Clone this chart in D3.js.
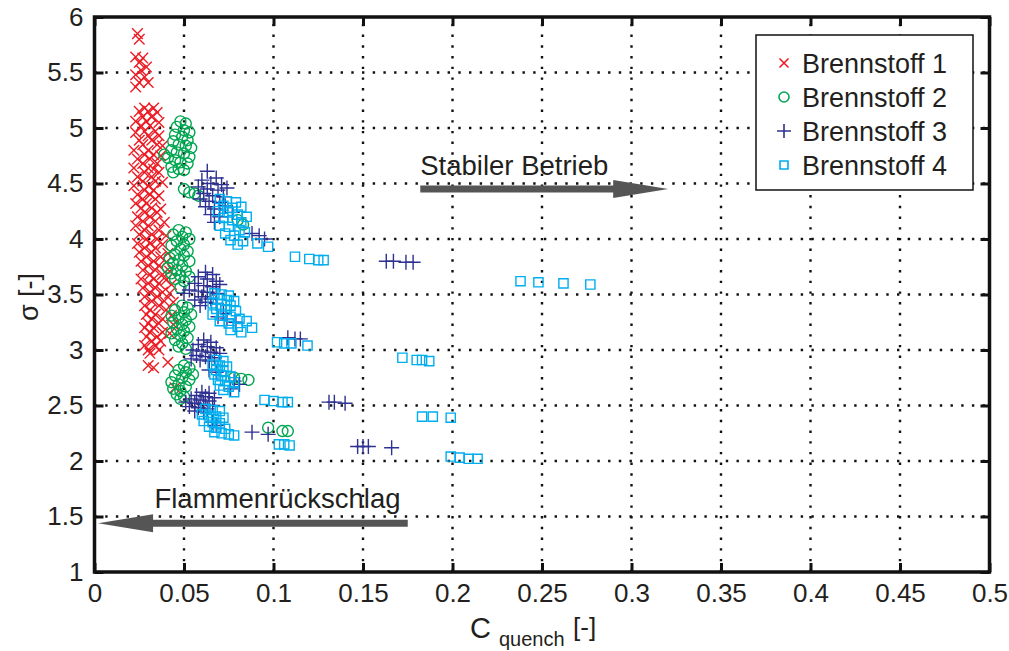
<!DOCTYPE html>
<html>
<head>
<meta charset="utf-8">
<script src="https://cdn.jsdelivr.net/npm/d3@7"></script>
<style>
body { margin: 0; background: #fff; }
svg { display: block; font-family: "Liberation Sans", Arial, Helvetica, sans-serif; }
</style>
</head>
<body>
<div id="chart"></div>
<script>
// series names shown in the legend
var seriesNames = ["Brennstoff 1", "Brennstoff 2", "Brennstoff 3", "Brennstoff 4"];

var xTickValues = [0, 0.05, 0.1, 0.15, 0.2, 0.25, 0.3, 0.35, 0.4, 0.45, 0.5];
var yTickValues = [1, 1.5, 2, 2.5, 3, 3.5, 4, 4.5, 5, 5.5, 6];

// Brennstoff 1 (red x) [C_quench, sigma]
var brennstoff1 = [
  [0.024,5.85],[0.025,5.80],[0.023,5.64],[0.027,5.63],[0.025,5.59],[0.029,5.55],[0.026,5.52],
  [0.023,5.48],[0.028,5.46],[0.025,5.41],[0.030,5.41],[0.023,5.37],
  [0.028,5.18],[0.033,5.18],[0.025,5.15],[0.030,5.15],[0.035,5.14],[0.027,5.10],[0.032,5.10],
  [0.023,5.06],[0.029,5.06],[0.036,5.05],[0.026,5.02],[0.031,5.02],[0.028,4.97],[0.034,4.97],
  [0.023,4.96],[0.030,4.93],[0.036,4.93],[0.025,4.89],[0.032,4.89],[0.027,4.85],[0.035,4.85],
  [0.038,4.84],[0.022,4.80],[0.030,4.80],[0.028,4.76],[0.033,4.76],[0.037,4.75],[0.024,4.72],
  [0.031,4.72],[0.027,4.68],[0.035,4.68],[0.022,4.64],[0.030,4.64],[0.033,4.63],[0.028,4.60],
  [0.036,4.60],[0.024,4.56],[0.032,4.56],[0.027,4.52],[0.034,4.52],[0.038,4.51],[0.022,4.48],
  [0.030,4.48],[0.028,4.44],[0.033,4.44],[0.024,4.40],[0.031,4.40],[0.036,4.39],[0.027,4.36],
  [0.034,4.36],[0.023,4.32],[0.029,4.32],[0.026,4.28],[0.032,4.28],[0.037,4.27],[0.028,4.24],
  [0.035,4.24],[0.024,4.20],[0.031,4.20],[0.027,4.16],[0.034,4.16],[0.039,4.15],[0.023,4.12],
  [0.030,4.12],[0.028,4.08],[0.036,4.08],[0.025,4.04],[0.032,4.04],[0.040,4.03],[0.029,4.00],
  [0.035,4.00],[0.024,3.96],[0.031,3.96],[0.038,3.95],[0.028,3.92],[0.034,3.92],[0.025,3.88],
  [0.032,3.88],[0.041,3.87],[0.029,3.84],[0.037,3.84],[0.026,3.80],[0.033,3.80],[0.040,3.79],
  [0.030,3.76],[0.036,3.76],[0.027,3.72],[0.034,3.72],[0.042,3.71],[0.031,3.68],[0.038,3.68],
  [0.026,3.64],[0.033,3.64],[0.040,3.63],[0.030,3.60],[0.036,3.60],[0.043,3.59],[0.027,3.56],
  [0.034,3.56],[0.031,3.52],[0.038,3.52],[0.042,3.51],[0.028,3.48],[0.035,3.48],[0.032,3.44],
  [0.039,3.44],[0.044,3.43],[0.028,3.40],[0.036,3.40],[0.031,3.36],[0.040,3.36],[0.029,3.32],
  [0.034,3.32],[0.043,3.31],[0.032,3.28],[0.038,3.28],[0.030,3.24],[0.036,3.24],[0.044,3.23],
  [0.028,3.20],[0.033,3.20],[0.031,3.16],[0.038,3.16],[0.042,3.15],[0.029,3.12],[0.035,3.12],
  [0.032,3.08],[0.037,3.08],[0.028,3.04],[0.034,3.04],[0.030,3.00],[0.036,3.00],[0.031,2.97],
  [0.030,2.86],[0.033,2.84],[0.041,2.89],[0.045,2.66]
];

// Brennstoff 2 (green o)
var brennstoff2 = [
  [0.048,5.06],[0.051,5.04],[0.046,5.01],[0.050,4.98],[0.053,4.96],[0.045,4.94],[0.049,4.92],
  [0.052,4.89],[0.044,4.88],[0.047,4.85],[0.051,4.84],[0.054,4.82],[0.043,4.80],[0.046,4.78],
  [0.050,4.77],[0.053,4.74],[0.041,4.73],[0.045,4.71],[0.048,4.69],[0.052,4.68],[0.043,4.65],
  [0.047,4.63],[0.044,4.60],[0.050,4.62],[0.039,4.76],
  [0.050,4.45],[0.053,4.42],[0.056,4.41],[0.058,4.39],
  [0.047,4.08],[0.051,4.06],[0.044,4.04],[0.049,4.02],[0.053,4.00],[0.046,3.98],[0.050,3.95],
  [0.043,3.94],[0.048,3.91],[0.052,3.89],[0.045,3.86],[0.050,3.85],[0.042,3.83],[0.047,3.81],
  [0.053,3.80],[0.044,3.78],[0.049,3.76],[0.041,3.74],[0.046,3.72],[0.051,3.71],[0.043,3.69],
  [0.048,3.67],[0.053,3.66],[0.045,3.64],[0.050,3.62],[0.048,3.56],
  [0.049,3.40],[0.052,3.38],[0.045,3.36],[0.050,3.34],[0.054,3.32],[0.043,3.31],[0.047,3.29],
  [0.051,3.27],[0.044,3.25],[0.049,3.23],[0.053,3.21],[0.046,3.19],[0.050,3.17],[0.043,3.15],
  [0.048,3.13],[0.052,3.11],[0.045,3.09],[0.049,3.06],[0.047,3.03],[0.051,3.01],
  [0.050,2.86],[0.053,2.84],[0.047,2.82],[0.051,2.80],[0.055,2.78],[0.045,2.77],[0.049,2.75],
  [0.053,2.73],[0.043,2.71],[0.047,2.69],[0.051,2.67],[0.044,2.65],[0.048,2.63],[0.046,2.60],
  [0.050,2.58],[0.048,2.56],
  [0.080,4.17],[0.083,4.13],[0.078,2.75],[0.082,2.74],[0.086,2.73],
  [0.097,2.30],[0.105,2.27],[0.108,2.27]
];

// Brennstoff 3 (navy +)
var brennstoff3 = [
  [0.063,4.61],[0.068,4.55],[0.060,4.53],[0.065,4.50],[0.071,4.49],[0.058,4.47],[0.063,4.45],
  [0.069,4.44],[0.074,4.46],[0.061,4.41],[0.066,4.39],[0.072,4.38],[0.059,4.36],[0.064,4.34],
  [0.070,4.33],[0.062,4.29],[0.067,4.27],[0.073,4.30],[0.065,4.22],[0.070,4.20],[0.067,4.15],
  [0.077,4.24],[0.088,4.05],[0.092,4.03],[0.095,4.00],
  [0.062,3.70],[0.066,3.68],[0.058,3.66],[0.063,3.64],[0.068,3.62],[0.056,3.60],[0.061,3.58],
  [0.066,3.57],[0.070,3.59],[0.053,3.54],[0.058,3.53],[0.063,3.52],[0.068,3.51],[0.050,3.51],
  [0.060,3.48],[0.065,3.46],[0.056,3.45],[0.062,3.43],[0.068,3.42],[0.059,3.40],
  [0.069,3.30],[0.074,3.28],[0.079,3.25],[0.072,3.33],
  [0.061,3.09],[0.065,3.07],[0.058,3.05],[0.063,3.03],[0.068,3.02],[0.055,3.00],[0.060,2.99],
  [0.065,2.98],[0.070,2.97],[0.057,2.95],[0.062,2.94],[0.067,2.93],[0.059,2.91],[0.064,2.90],
  [0.054,2.92],[0.064,2.82],[0.068,2.80],[0.078,2.72],[0.081,2.69],[0.076,2.65],
  [0.060,2.62],[0.064,2.61],[0.057,2.59],[0.062,2.58],[0.067,2.57],[0.054,2.56],[0.059,2.55],
  [0.064,2.54],[0.051,2.53],[0.056,2.52],[0.061,2.51],[0.066,2.50],[0.053,2.49],[0.058,2.48],
  [0.063,2.47],[0.056,2.45],[0.061,2.44],[0.066,2.35],[0.068,2.32],
  [0.088,2.26],[0.097,2.24],[0.108,3.11],[0.112,3.10],[0.115,3.10],
  [0.131,2.53],[0.134,2.53],[0.140,2.52],[0.147,2.13],[0.150,2.13],[0.153,2.13],[0.166,2.12],
  [0.163,3.80],[0.167,3.80],[0.174,3.79],[0.178,3.79]
];

// Brennstoff 4 (cyan squares)
var brennstoff4 = [
  [0.070,4.36],[0.074,4.34],[0.079,4.33],[0.072,4.30],[0.077,4.28],[0.082,4.29],[0.069,4.25],
  [0.075,4.24],[0.080,4.22],[0.085,4.20],[0.072,4.19],[0.077,4.17],[0.082,4.15],[0.070,4.12],
  [0.075,4.11],[0.081,4.08],[0.073,4.05],[0.078,4.03],[0.084,4.06],[0.076,3.99],[0.083,3.98],
  [0.080,3.95],[0.091,3.96],[0.097,3.93],
  [0.112,3.84],[0.120,3.82],[0.125,3.81],[0.128,3.81],
  [0.067,3.51],[0.071,3.50],[0.075,3.49],[0.069,3.46],[0.074,3.45],[0.078,3.44],[0.066,3.42],
  [0.071,3.41],[0.076,3.40],[0.068,3.37],[0.073,3.36],[0.079,3.35],[0.066,3.32],[0.071,3.31],
  [0.076,3.30],[0.081,3.28],[0.070,3.26],[0.075,3.24],[0.085,3.26],[0.080,3.21],[0.076,3.18],
  [0.082,3.16],[0.088,3.20],
  [0.102,3.07],[0.106,3.06],[0.110,3.06],[0.119,3.04],
  [0.172,2.93],[0.180,2.91],[0.183,2.91],[0.187,2.90],
  [0.068,2.91],[0.072,2.90],[0.066,2.87],[0.070,2.86],[0.074,2.85],[0.068,2.82],[0.072,2.81],
  [0.067,2.78],[0.071,2.77],[0.076,2.76],[0.069,2.73],[0.073,2.72],[0.078,2.71],[0.070,2.68],
  [0.075,2.67],[0.072,2.64],[0.078,2.62],
  [0.095,2.55],[0.100,2.54],[0.105,2.53],[0.108,2.53],
  [0.103,2.15],[0.106,2.15],[0.109,2.14],
  [0.062,2.47],[0.066,2.46],[0.070,2.45],[0.060,2.42],[0.064,2.41],[0.068,2.40],[0.072,2.39],
  [0.061,2.36],[0.066,2.35],[0.070,2.34],[0.064,2.31],[0.068,2.30],[0.073,2.29],[0.067,2.26],
  [0.071,2.25],[0.075,2.24],[0.078,2.23],
  [0.183,2.40],[0.189,2.40],[0.199,2.39],
  [0.199,2.04],[0.204,2.03],[0.209,2.02],[0.214,2.02],
  [0.238,3.62],[0.248,3.61],[0.262,3.60],[0.277,3.59]
];

var w = 1009;
var h = 651;
var margin = {left: 94.5, right: 19.5, top: 17, bottom: 79};

var svg = d3.select("#chart").append("svg")
    .attr("width", w)
    .attr("height", h);

var x = d3.scaleLinear().domain([0, 0.5]).range([margin.left, w - margin.right]);
var y = d3.scaleLinear().domain([1, 6]).range([h - margin.bottom, margin.top]);

// dotted grid
svg.append("g").selectAll("line")
    .data(xTickValues.slice(1, -1))
    .enter().append("line")
    .attr("x1", function(d) { return x(d); })
    .attr("x2", function(d) { return x(d); })
    .attr("y1", y(1))
    .attr("y2", y(6))
    .attr("stroke", "#111")
    .attr("stroke-width", 2.4)
    .attr("stroke-dasharray", "2.4,8.3");

svg.append("g").selectAll("line")
    .data(yTickValues.slice(1, -1))
    .enter().append("line")
    .attr("x1", x(0))
    .attr("x2", x(0.5))
    .attr("y1", function(d) { return y(d); })
    .attr("y2", function(d) { return y(d); })
    .attr("stroke", "#111")
    .attr("stroke-width", 2.4)
    .attr("stroke-dasharray", "2.4,8.3");

// marker shapes as path strings
function crossX(s) { return "M" + (-s) + "," + (-s) + "L" + s + "," + s + "M" + (-s) + "," + s + "L" + s + "," + (-s); }
function plus(s) { return "M" + (-s) + ",0L" + s + ",0M0," + (-s) + "L0," + s; }
function square(s) { return "M" + (-s) + "," + (-s) + "h" + (2 * s) + "v" + (2 * s) + "h" + (-2 * s) + "Z"; }
function circle(r) { return "M" + (-r) + ",0a" + r + "," + r + " 0 1,0 " + (2 * r) + ",0a" + r + "," + r + " 0 1,0 " + (-2 * r) + ",0"; }

var styles = [
    {data: brennstoff1, color: "#ed1c24", shape: crossX, size: 5.3, legSize: 4.5},
    {data: brennstoff2, color: "#00a651", shape: circle, size: 5.5, legSize: 5},
    {data: brennstoff3, color: "#2e3192", shape: plus, size: 7.5, legSize: 7},
    {data: brennstoff4, color: "#00aeef", shape: square, size: 4.6, legSize: 4}
];

styles.forEach(function(s) {
    svg.append("g").selectAll("path")
        .data(s.data)
        .enter().append("path")
        .attr("transform", function(d) { return "translate(" + x(d[0]) + "," + y(d[1]) + ")"; })
        .attr("d", s.shape(s.size))
        .attr("fill", "none")
        .attr("stroke", s.color)
        .attr("stroke-width", 1.4);
});

// arrows
function arrow(x1, x2, yv, label, textX, textY) {
    var dir = x2 > x1 ? 1 : -1;
    var px1 = x(x1), px2 = x(x2), py = y(yv);
    var headLen = 55;
    svg.append("line")
        .attr("x1", px1).attr("x2", px2 - dir * headLen + dir * 2)
        .attr("y1", py).attr("y2", py)
        .attr("stroke", "#555")
        .attr("stroke-width", 7);
    svg.append("path")
        .attr("d", "M" + px2 + "," + py + "L" + (px2 - dir * headLen) + "," + (py - 9) + "L" + (px2 - dir * headLen) + "," + (py + 9) + "Z")
        .attr("fill", "#555");
    svg.append("text")
        .attr("x", x(textX)).attr("y", y(textY))
        .attr("font-size", 27.5)
        .attr("fill", "#231f20")
        .text(label);
}
arrow(0.182, 0.3205, 4.45, "Stabiler Betrieb", 0.182, 4.58);
arrow(0.175, 0.002, 1.44, "Flammenrückschlag", 0.0335, 1.575);

// axes with inward ticks
var xAxis = d3.axisBottom(x).tickValues(xTickValues).tickSize(-9).tickPadding(12)
    .tickFormat(function(d) { return d3.format("~g")(d); });
var yAxis = d3.axisLeft(y).tickValues(yTickValues).tickSize(-9).tickPadding(11)
    .tickFormat(function(d) { return d3.format("~g")(d); });

var gx = svg.append("g").attr("transform", "translate(0," + y(1) + ")").call(xAxis);
var gy = svg.append("g").attr("transform", "translate(" + x(0) + ",0)").call(yAxis);
svg.append("g").attr("transform", "translate(0," + y(6) + ")")
    .call(d3.axisTop(x).tickValues(xTickValues).tickSize(-9).tickFormat(""));
svg.append("g").attr("transform", "translate(" + x(0.5) + ",0)")
    .call(d3.axisRight(y).tickValues(yTickValues).tickSize(-9).tickFormat(""));

svg.selectAll(".domain").remove();
svg.selectAll(".tick line").attr("stroke", "#111").attr("stroke-width", 3);
gx.selectAll("text").attr("font-size", 26).attr("font-family", "Liberation Sans, Arial, sans-serif").attr("fill", "#231f20");
gy.selectAll("text").attr("font-size", 26).attr("font-family", "Liberation Sans, Arial, sans-serif").attr("fill", "#231f20");

// frame
svg.append("rect")
    .attr("x", x(0)).attr("y", y(6))
    .attr("width", x(0.5) - x(0)).attr("height", y(1) - y(6))
    .attr("fill", "none")
    .attr("stroke", "#111")
    .attr("stroke-width", 3.5);

// legend
var legend = svg.append("g");
legend.append("rect")
    .attr("x", 756).attr("y", 35)
    .attr("width", 217).attr("height", 155)
    .attr("fill", "#fff")
    .attr("stroke", "#111")
    .attr("stroke-width", 1.5);

var items = legend.selectAll(".legend")
    .data(styles)
    .enter().append("g")
    .attr("class", "legend")
    .attr("transform", function(d, i) { return "translate(784," + (63 + i * 34) + ")"; });

items.append("path")
    .attr("d", function(d) { return d.shape(d.legSize); })
    .attr("fill", "none")
    .attr("stroke", function(d) { return d.color; })
    .attr("stroke-width", 1.6);

items.append("text")
    .attr("x", 18)
    .attr("y", 10)
    .attr("font-size", 27)
    .attr("fill", "#231f20")
    .text(function(d, i) { return seriesNames[i]; });

// axis labels
svg.append("text")
    .attr("transform", "translate(38," + 297 + ") rotate(-90)")
    .attr("text-anchor", "middle")
    .attr("font-size", 27)
    .attr("fill", "#231f20")
    .text("σ [-]");

svg.append("text").attr("x", 470).attr("y", 638).attr("font-size", 29).attr("fill", "#231f20").text("C");
svg.append("text").attr("x", 499).attr("y", 646).attr("font-size", 20).attr("fill", "#231f20").text("quench");
svg.append("text").attr("x", 573).attr("y", 636).attr("font-size", 26).attr("fill", "#231f20").text("[-]");
</script>
</body>
</html>
